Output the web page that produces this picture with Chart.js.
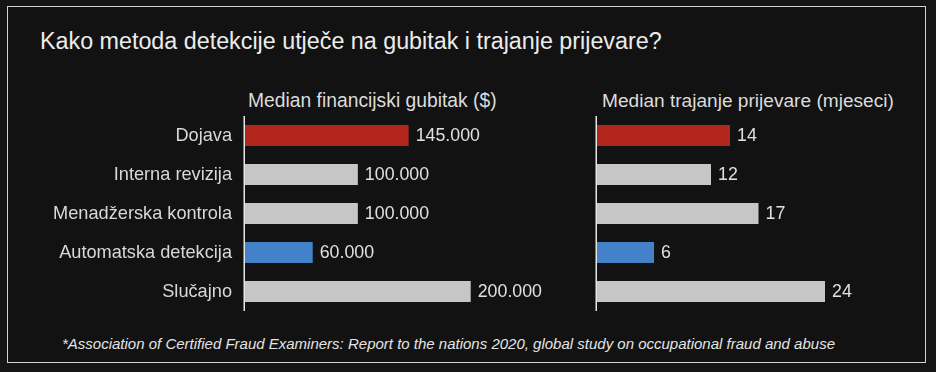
<!DOCTYPE html>
<html>
<head>
<meta charset="utf-8">
<script src="https://cdn.jsdelivr.net/npm/chart.js@4.4.0/dist/chart.umd.min.js"></script>
<style>
    html, body {
        margin: 0;
        padding: 0;
        width: 936px;
        height: 372px;
        overflow: hidden;
        background: #151515;
        font-family: "Liberation Sans", Arial, sans-serif;
    }
    .frame {
        position: absolute;
        left: 7px;
        top: 6px;
        width: 917px;
        height: 355px;
        border: 1.5px solid #d2d2d2;
        background: #121212;
    }
    .txt {
        position: absolute;
        white-space: nowrap;
        line-height: 1;
    }
    canvas {
        position: absolute;
    }
</style>
</head>
<body>
<div class="frame"></div>
<div class="txt" style="left:40px; top:30px; font-size:23.3px; color:#ececec;">Kako metoda detekcije utječe na gubitak i trajanje prijevare?</div>
<div class="txt" style="left:248px; top:91px; font-size:19.3px; color:#dcdcdc;">Median financijski gubitak ($)</div>
<div class="txt" style="left:602px; top:91px; font-size:19.1px; color:#dcdcdc;">Median trajanje prijevare (mjeseci)</div>
<div class="txt" style="left:62px; top:336px; font-size:15px; font-style:italic; color:#e4e4e4;">*Association of Certified Fraud Examiners: Report to the nations 2020, global study on occupational fraud and abuse</div>

<canvas id="lossChart" width="531" height="195" style="left:30px; top:116px;"></canvas>
<canvas id="durationChart" width="311" height="195" style="left:590px; top:116px;"></canvas>

<script>
const categories = ['Dojava', 'Interna revizija', 'Menadžerska kontrola', 'Automatska detekcija', 'Slučajno'];
const lossValues = [145000, 100000, 100000, 60000, 200000];
const durationValues = [14, 12, 17, 6, 24];

const barColors = ['#b3261e', '#c6c6c6', '#c6c6c6', '#4382c8', '#c6c6c6'];
const labelColor = '#d8d8d8';

function formatThousands(v) {
    return String(v).replace(/\B(?=(\d{3})+(?!\d))/g, '.');
}

// value text after every bar + the vertical axis line
const valueLabels = {
    id: 'valueLabels',
    afterDatasetsDraw(chart, args, opts) {
        const ctx = chart.ctx;
        const area = chart.chartArea;
        const meta = chart.getDatasetMeta(0);
        ctx.save();
        ctx.strokeStyle = '#e6e6e6';
        ctx.lineWidth = 1.5;
        ctx.beginPath();
        ctx.moveTo(area.left - 0.75, area.top);
        ctx.lineTo(area.left - 0.75, area.bottom);
        ctx.stroke();

        ctx.font = '17.8px "Liberation Sans", Arial, sans-serif';
        ctx.fillStyle = '#e0e0e0';
        ctx.textAlign = 'left';
        ctx.textBaseline = 'middle';
        meta.data.forEach((bar, i) => {
            const v = chart.data.datasets[0].data[i];
            ctx.fillText(opts.format(v), bar.x + 7, bar.y + 1);
        });
        ctx.restore();
    }
};

function makeChart(id, values, max, axisWidth, showLabels, format) {
    const ctx = document.getElementById(id).getContext('2d');
    return new Chart(ctx, {
        type: 'bar',
        data: {
            labels: categories,
            datasets: [{
                data: values,
                backgroundColor: barColors,
                borderWidth: 0,
                barPercentage: 0.54,
                categoryPercentage: 1
            }]
        },
        options: {
            indexAxis: 'y',
            responsive: false,
            animation: false,
            devicePixelRatio: 1,
            layout: { padding: 0 },
            plugins: {
                legend: { display: false },
                tooltip: { enabled: false },
                valueLabels: { format: format }
            },
            scales: {
                x: {
                    display: false,
                    min: 0,
                    max: max
                },
                y: {
                    afterFit: (scale) => {
                        scale.width = axisWidth;
                        scale.paddingTop = 0;
                        scale.paddingBottom = 0;
                    },
                    grid: { display: false, drawTicks: false },
                    border: { display: false },
                    ticks: {
                        display: showLabels,
                        color: labelColor,
                        padding: 13,
                        font: { family: '"Liberation Sans", Arial, sans-serif', size: 18.2 }
                    }
                }
            }
        },
        plugins: [valueLabels]
    });
}

makeChart('lossChart', lossValues, 280000, 215, true, formatThousands);
makeChart('durationChart', durationValues, 32, 7, false, v => String(v));
</script>
</body>
</html>
